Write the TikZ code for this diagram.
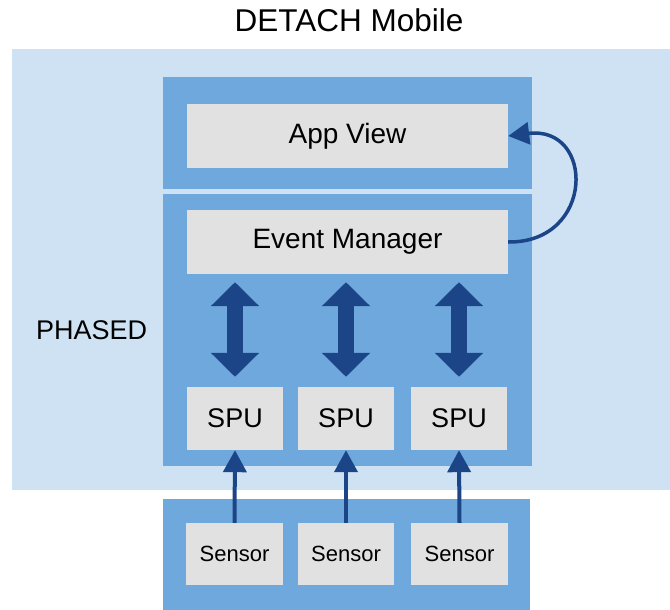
\documentclass[tikz,border=0pt]{standalone}
\usepackage{fontspec}
\setmainfont{Liberation Sans}
\usetikzlibrary{arrows.meta}

\definecolor{paleblue}{HTML}{CFE2F3}
\definecolor{midblue}{HTML}{6FA8DC}
\definecolor{boxgray}{HTML}{E1E1E1}
\definecolor{arrowblue}{HTML}{1C4587}

\tikzset{
  panel/.style={fill=midblue, draw=none, inner sep=0pt, anchor=north west},
  graybox/.style={fill=boxgray, draw=none, inner sep=0pt, text=black},
  bigtext/.style={font=\fontsize{28}{32}\selectfont},
  sputext/.style={font=\fontsize{27}{31}\selectfont},
  sensortext/.style={font=\fontsize{22}{26}\selectfont},
  dualarrow/.style={arrowblue, line width=16pt,
    {Triangle[length=24pt,width=47pt]}-{Triangle[length=24pt,width=47pt]}},
  feedarrow/.style={arrowblue, line width=4pt, -{Triangle[length=22pt,width=23pt]}},
  looparrow/.style={arrowblue, line width=3.5pt, -{Triangle[length=21pt,width=22pt]}}
}

\begin{document}
\begin{tikzpicture}[x=1pt,y=-1pt]
  \useasboundingbox (0,0) rectangle (670,610);

  % title
  \node[anchor=base, font=\fontsize{31.5}{36}\selectfont] (title) at (349,32) {DETACH Mobile};

  % PHASED region
  \node[fill=paleblue, inner sep=0pt, minimum width=658pt, minimum height=441pt, anchor=north west]
    (phased) at (12,49) {};
  \node[anchor=base west, inner sep=0pt, font=\fontsize{27}{31}\selectfont] (phasedlabel) at (36,339) {PHASED};

  % containers
  \node[panel, minimum width=369pt, minimum height=112pt] (top) at (163,77) {};
  \node[panel, minimum width=369pt, minimum height=272pt] (mid) at (163,194) {};
  \node[panel, minimum width=367pt, minimum height=111pt] (bottom) at (163,499) {};

  % upper layers
  \node[graybox, bigtext, minimum width=321pt, minimum height=64pt] (app) at (347.5,136) {App View};
  \node[graybox, bigtext, minimum width=321pt, minimum height=64pt] (em) at (347.5,242) {Event Manager};

  % processing units
  \node[graybox, sputext, minimum width=96pt, minimum height=63pt] (spu1) at (235,418.5) {SPU};
  \node[graybox, sputext, minimum width=96pt, minimum height=63pt] (spu2) at (346,418.5) {SPU};
  \node[graybox, sputext, minimum width=96pt, minimum height=63pt] (spu3) at (459,418.5) {SPU};

  % sensors
  \node[graybox, sensortext, minimum width=97pt, minimum height=62pt] (sen1) at (234.5,554) {Sensor};
  \node[graybox, sensortext, minimum width=96pt, minimum height=62pt] (sen2) at (346,554) {Sensor};
  \node[graybox, sensortext, minimum width=97pt, minimum height=62pt] (sen3) at (459.5,554) {Sensor};

  % event manager <-> processing units
  \draw[dualarrow, shorten <=8pt, shorten >=10pt] (em.south -| spu1.north) -- (spu1.north);
  \draw[dualarrow, shorten <=8pt, shorten >=10pt] (em.south -| spu2.north) -- (spu2.north);
  \draw[dualarrow, shorten <=8pt, shorten >=10pt] (em.south -| spu3.north) -- (spu3.north);

  % sensors feed processing units
  \draw[feedarrow] (sen1.north) -- (spu1.south);
  \draw[feedarrow] (sen2.north) -- (spu2.south);
  \draw[feedarrow] (sen3.north) -- (spu3.south);

  % event manager updates the app view
  \draw[looparrow] (em.east) .. controls (595,243) and (595,125) .. (app.east);
\end{tikzpicture}
\end{document}
